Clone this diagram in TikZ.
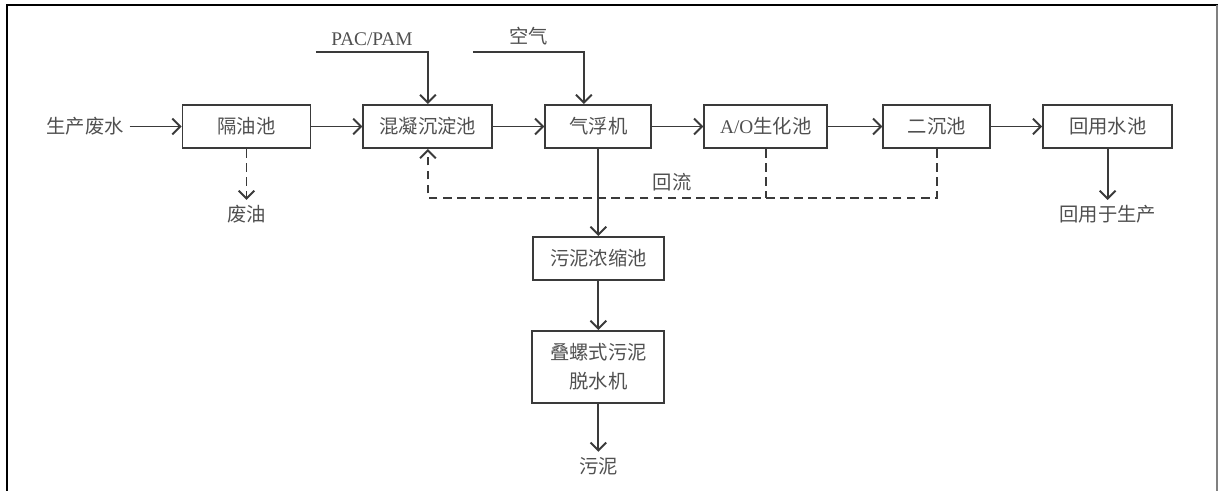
\documentclass[tikz,border=0pt]{standalone}
\usepackage{fontspec}
\setmainfont{Liberation Serif}
\newfontfamily\cjk{Noto Sans CJK SC}
\usepackage{xcolor}
\usetikzlibrary{arrows.meta,positioning,calc}

\definecolor{linegray}{HTML}{3A3A3A}
\definecolor{textgray}{HTML}{505050}

\begin{document}
\begin{tikzpicture}[
    node distance=1.02cm,
    every node/.style={font=\cjk\fontsize{11}{16.5}\selectfont, text=textgray},
    procbox/.style={
      rectangle, draw=linegray, line width=1.1pt,
      minimum height=0.86cm, align=center, inner sep=2pt
    },
    lbl/.style={inner sep=3pt},
    flow/.style={-{Straight Barb[length=4.5pt,width=9pt]}, line width=1.1pt, linegray},
    backflow/.style={flow, dash pattern=on 5pt off 3pt}
  ]
    \useasboundingbox (0,0) rectangle (24.36,-9.82);

    % frame
    \draw[black, line width=1.3pt] (0.14,-9.82) -- (0.14,-0.1) -- (24.36,-0.1);
    \draw[gray, line width=0.6pt] (24.34,-0.1) -- (24.34,-9.82);

    % main line
    \node[procbox, minimum width=2.56cm] (gy) at (4.93,-2.53) {隔油池};
    \node[procbox, minimum width=2.58cm, right=of gy] (hn) {混凝沉淀池};
    \node[procbox, minimum width=2.12cm, right=of hn] (qf) {气浮机};
    \node[procbox, minimum width=2.46cm, right=of qf] (ao) {{\rmfamily A/O}生化池};
    \node[procbox, minimum width=2.14cm, right=1.08cm of ao] (ec) {二沉池};
    \node[procbox, minimum width=2.58cm, right=of ec] (hy) {回用水池};

    % sludge line
    \node[procbox, minimum width=2.62cm, below=1.74cm of qf] (wn) {污泥浓缩池};
    \node[procbox, minimum width=2.64cm, minimum height=1.44cm, below=0.98cm of wn] (dl) {叠螺式污泥\\脱水机};

    % inputs and outputs
    \node[lbl, left=1.04cm of gy] (ws) {生产废水};
    \node[lbl, below=1.02cm of gy] (fy) {废油};
    \node[lbl, below=1.02cm of hy] (hs) {回用于生产};
    \node[lbl, below=0.96cm of dl] (wl) {污泥};
    \coordinate[above left=1.04cm and 2.24cm of hn.north] (pac);
    \coordinate[above=1.04cm of qf.north, xshift=-2.51cm] (air);

    % arrows
    \draw[flow] (ws) -- (gy);
    \draw[flow] (gy) -- (hn);
    \draw[flow] (hn) -- (qf);
    \draw[flow] (qf) -- (ao);
    \draw[flow] (ao) -- (ec);
    \draw[flow] (ec) -- (hy);
    \draw[flow] (pac) -| node[pos=0.25, above, font=\rmfamily\fontsize{11}{13}\selectfont]{PAC/PAM} (hn.north);
    \draw[flow] (air) -| node[pos=0.25, above]{空气} ([xshift=-0.29cm]qf.north);
    \draw[backflow] (gy.south) -- (fy);
    \draw[flow] (hy.south) -- (hs);
    \draw[flow] (qf.south) -- (wn.north);
    \draw[flow] (wn) -- (dl);
    \draw[flow] (dl) -- (wl);

    % return flow
    \coordinate (rl) at ($(ec.south)+(0,-0.98)$);
    \draw[backflow] (ec.south) -- (rl) -| node[pos=0.26, above]{回流} (hn.south);
    \draw[backflow, -] (ao.south) -- (ao.south |- rl);
  \end{tikzpicture}
\end{document}
